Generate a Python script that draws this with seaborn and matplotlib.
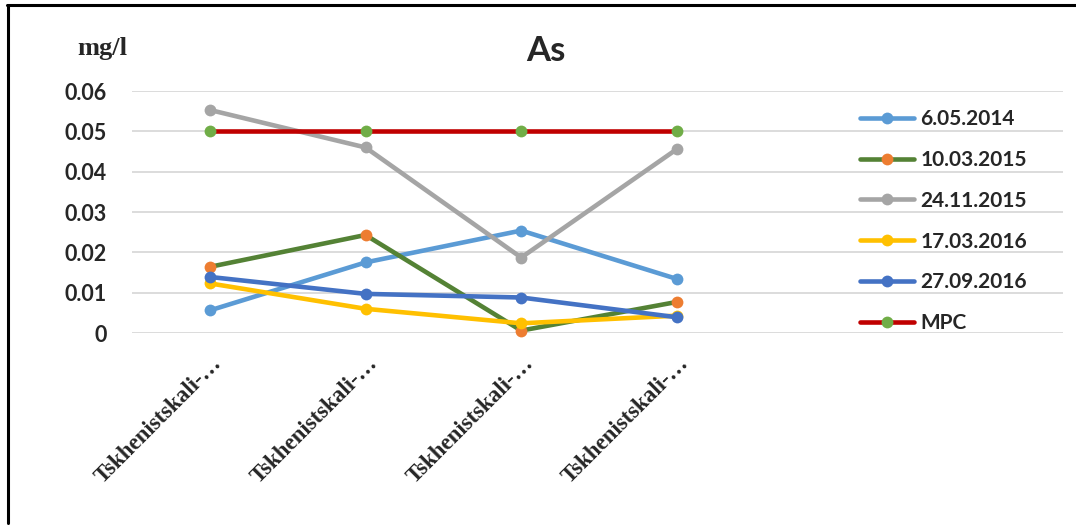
import matplotlib
matplotlib.use("Agg")
import matplotlib.pyplot as plt
import matplotlib.transforms as mtransforms
from matplotlib.lines import Line2D
import seaborn as sns
import pandas as pd

categories = ["Tskhenistskali-…"] * 4
series_names = ["6.05.2014", "10.03.2015", "24.11.2015", "17.03.2016", "27.09.2016", "MPC"]
v_2014_05_06 = [0.0056, 0.0175, 0.0254, 0.0134]
v_2015_03_10 = [0.0164, 0.0243, 0.0006, 0.0077]
v_2015_11_24 = [0.0553, 0.0460, 0.0187, 0.0456]
v_2016_03_17 = [0.0123, 0.0060, 0.0024, 0.0043]
v_2016_09_27 = [0.0139, 0.0097, 0.0088, 0.0039]
v_mpc = [0.05, 0.05, 0.05, 0.05]
y_ticks = [0, 0.01, 0.02, 0.03, 0.04, 0.05, 0.06]
y_tick_labels = ["0", "0.01", "0.02", "0.03", "0.04", "0.05", "0.06"]

line_colors = ["#5B9BD5", "#548235", "#A5A5A5", "#FFC000", "#4472C4", "#C00000"]
marker_colors = ["#5B9BD5", "#ED7D31", "#A5A5A5", "#FFC000", "#4472C4", "#70AD47"]

all_vals = [v_2014_05_06, v_2015_03_10, v_2015_11_24, v_2016_03_17, v_2016_09_27, v_mpc]
rows = []
for name, vals in zip(series_names, all_vals):
    for i, v in enumerate(vals):
        rows.append({"series": name, "pos": i, "value": v})
df = pd.DataFrame(rows)

sns.set_theme(style="white")
plt.rcParams["font.family"] = ["Lato", "DejaVu Sans"]

fig = plt.figure(figsize=(10.76, 5.26), dpi=100)
ax = fig.add_axes([132 / 1076, 1 - 333 / 526, (1063 - 132) / 1076, (333 - 91) / 526])

for name, lc, mc in zip(series_names, line_colors, marker_colors):
    sub = df[df["series"] == name]
    sns.lineplot(data=sub, x="pos", y="value", ax=ax, color=lc, linewidth=3.3,
                 marker="o", markersize=8.5, markerfacecolor=mc, markeredgecolor=mc,
                 markeredgewidth=0, clip_on=False, legend=False)

ax.set_xlim(-0.5, 5.48)
ax.set_ylim(0, 0.06)
ax.set_yticks(y_ticks)
ax.set_yticklabels(y_tick_labels, fontsize=15.5, fontweight="bold")
ax.tick_params(axis="y", length=0, pad=18)
ax.yaxis.grid(True, color="#D9D9D9", linewidth=1.3)
ax.set_axisbelow(True)
for s in ax.spines.values():
    s.set_visible(False)
ax.set_xlabel("")
ax.set_ylabel("")

ax.set_xticks(range(len(categories)))
ax.set_xticklabels(categories, rotation=45, ha="right", va="center",
                   rotation_mode="anchor", fontsize=16.5, fontweight="bold",
                   family=["Liberation Serif", "DejaVu Serif"])
ax.tick_params(axis="x", length=0, pad=4)
offset = mtransforms.ScaledTranslation(9 / 100, -22 / 100, fig.dpi_scale_trans)
for lbl in ax.get_xticklabels():
    lbl.set_transform(lbl.get_transform() + offset)

fig.text(546 / 1076, 1 - 51 / 526, "As", ha="center", va="center", fontsize=25, fontweight="bold")
fig.text(102 / 1076, 1 - 48 / 526, "mg/l", ha="center", va="center", fontsize=19,
         fontweight="bold", family=["Liberation Serif", "DejaVu Serif"])

handles = [Line2D([0], [0], color=lc, linewidth=3.3, marker="o", markersize=8.5,
                  markerfacecolor=mc, markeredgecolor=mc, markeredgewidth=0)
           for lc, mc in zip(line_colors, marker_colors)]
leg = fig.legend(handles, series_names, loc="upper left",
                 bbox_to_anchor=(860 / 1076, 1 - 109 / 526), frameon=False,
                 prop={"size": 15, "weight": "bold"}, handlelength=2.6,
                 handletextpad=0.3, labelspacing=1.0, borderaxespad=0,
                 borderpad=0)

fig.add_artist(Line2D([7 / 1076, 1.0], [1 - 5 / 526, 1 - 5 / 526], transform=fig.transFigure,
                      color="black", linewidth=2.2))
fig.add_artist(Line2D([8 / 1076, 8 / 1076], [1 - 5 / 526, 1 - 523 / 526], transform=fig.transFigure,
                      color="black", linewidth=2.2))

fig.savefig("out.png", dpi=100, facecolor="white")
